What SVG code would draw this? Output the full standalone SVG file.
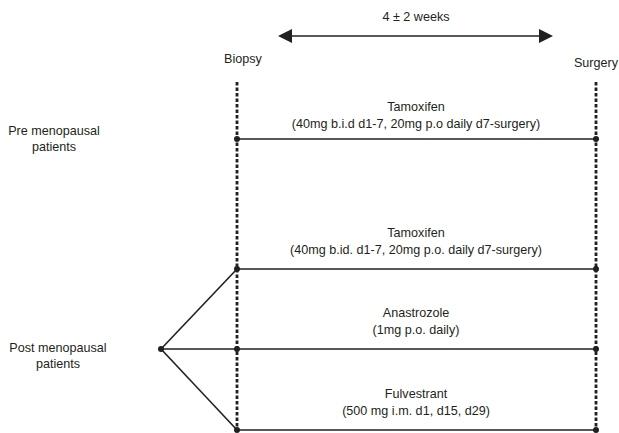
<svg xmlns="http://www.w3.org/2000/svg" width="619" height="433" viewBox="0 0 619 433">
<style>
text{font-family:"Liberation Sans",Arial,sans-serif;font-size:12.6px;fill:#231f20;text-anchor:middle}
.dash{stroke:#231f20;stroke-width:2.8;stroke-dasharray:3.5 2;fill:none}
.ln{stroke:#231f20;stroke-width:1.6;fill:none}
.dot{fill:#231f20}
</style>
<defs>
<marker id="ah" viewBox="0 0 14 14" refX="2" refY="7" markerWidth="14" markerHeight="14" markerUnits="userSpaceOnUse" orient="auto-start-reverse">
<path d="M0,0 L14,7 L0,14 Z" fill="#231f20"/>
</marker>
</defs>
<rect width="619" height="433" fill="#fff"/>
<g id="timeline">
<text x="416" y="21">4 ± 2 weeks</text>
<text x="243" y="63">Biopsy</text>
<text x="596" y="67">Surgery</text>
</g>
<g id="connectors">
<line class="ln" x1="290" y1="36" x2="541" y2="36" marker-start="url(#ah)" marker-end="url(#ah)"/>
<line class="dash" x1="237" y1="82" x2="237" y2="433"/>
<line class="dash" x1="596" y1="82" x2="596" y2="433"/>
<line class="ln" x1="237" y1="139" x2="596" y2="139"/>
<line class="ln" x1="237" y1="269" x2="596" y2="269"/>
<line class="ln" x1="161" y1="349" x2="596" y2="349"/>
<line class="ln" x1="237" y1="430" x2="596" y2="430"/>
<line class="ln" x1="161" y1="349" x2="237" y2="269"/>
<line class="ln" x1="161" y1="349" x2="237" y2="430"/>
<circle class="dot" cx="237" cy="139" r="3"/>
<circle class="dot" cx="596" cy="139" r="3"/>
<circle class="dot" cx="237" cy="269" r="3"/>
<circle class="dot" cx="596" cy="269" r="3"/>
<circle class="dot" cx="161" cy="349" r="3"/>
<circle class="dot" cx="237" cy="349" r="3"/>
<circle class="dot" cx="596" cy="349" r="3"/>
<circle class="dot" cx="237" cy="430" r="3"/>
<circle class="dot" cx="596" cy="430" r="3"/>
</g>
<g id="pre">
<text x="54" y="135">Pre menopausal</text>
<text x="54" y="151">patients</text>
</g>
<g id="post">
<text x="58" y="352">Post menopausal</text>
<text x="58" y="368">patients</text>
</g>
<g id="tam-pre">
<text x="416" y="111">Tamoxifen</text>
<text x="416" y="128">(40mg b.i.d d1-7, 20mg p.o daily d7-surgery)</text>
</g>
<g id="tam-post">
<text x="416" y="237">Tamoxifen</text>
<text x="416" y="254">(40mg b.id. d1-7, 20mg p.o. daily d7-surgery)</text>
</g>
<g id="ana">
<text x="416" y="317">Anastrozole</text>
<text x="416" y="334">(1mg p.o. daily)</text>
</g>
<g id="ful">
<text x="416" y="398">Fulvestrant</text>
<text x="416" y="415">(500 mg i.m. d1, d15, d29)</text>
</g>
</svg>
